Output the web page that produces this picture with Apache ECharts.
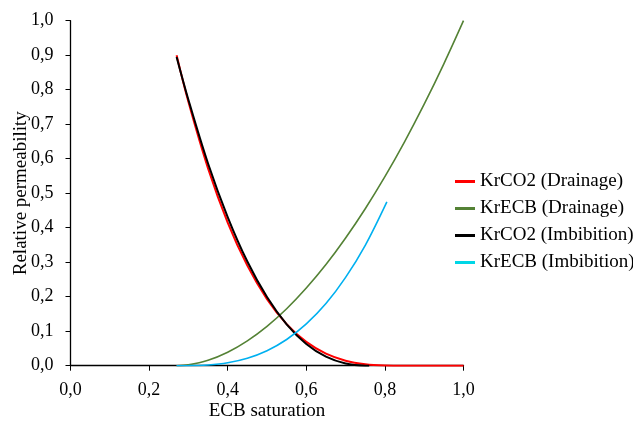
<!DOCTYPE html>
<html>
<head>
<meta charset="utf-8">
<script src="https://cdn.jsdelivr.net/npm/echarts@6/dist/echarts.min.js"></script>
<style>html,body{margin:0;padding:0;background:#fff;}#chart{width:633px;height:421px;}</style>
</head>
<body>
<div id="chart"></div>
<script>
// Data
var satDrainCO2 = [0.27, 0.30, 0.35, 0.40, 0.45, 0.50, 0.55, 0.60, 0.65, 0.70, 0.75, 0.80, 0.85, 0.90, 0.95, 1.00];
var krCO2Drainage = [0.90, 0.765, 0.572, 0.415, 0.290, 0.193, 0.1205, 0.069, 0.035, 0.0146, 0.0042, 0.0006, 0, 0, 0, 0];

var satDrainECB = [0.27, 0.30, 0.35, 0.40, 0.45, 0.50, 0.55, 0.60, 0.65, 0.70, 0.75, 0.80, 0.85, 0.90, 0.95, 1.00];
var krECBDrainage = [0, 0.0025, 0.0157, 0.039, 0.072, 0.114, 0.165, 0.225, 0.293, 0.370, 0.455, 0.548, 0.649, 0.758, 0.875, 1.0];

var satImbCO2 = [0.27, 0.30, 0.35, 0.40, 0.45, 0.50, 0.55, 0.60, 0.65, 0.70, 0.75, 0.76];
var krCO2Imbibition = [0.895, 0.771, 0.586, 0.431, 0.302, 0.199, 0.120, 0.063, 0.026, 0.0062, 0.0001, 0];

var satImbECB = [0.27, 0.30, 0.35, 0.40, 0.45, 0.50, 0.55, 0.60, 0.65, 0.70, 0.75, 0.805];
var krECBImbibition = [0, 0.0001, 0.0022, 0.0087, 0.0218, 0.0436, 0.076, 0.121, 0.180, 0.256, 0.349, 0.475];

var seriesNames = ['KrCO2 (Drainage)', 'KrECB (Drainage)', 'KrCO2 (Imbibition)', 'KrECB (Imbibition)'];
var xTitle = 'ECB saturation';
var yTitle = 'Relative permeability';

function pairs(xs, ys) { return xs.map(function (x, i) { return [x, ys[i]]; }); }
function fmt(v) { return v.toFixed(1).replace('.', ','); }

var font = 'Liberation Serif';
var chart = echarts.init(document.getElementById('chart'), null, { renderer: 'canvas' });

function lineSeries(name, data, color, width) {
  return {
    name: name, type: 'line', data: data, showSymbol: false, symbol: 'none',
    smooth: 0.35, animation: false, clip: true,
    lineStyle: { color: color, width: width }, itemStyle: { color: color }
  };
}

chart.setOption({
  animation: false,
  backgroundColor: '#ffffff',
  grid: { left: 70.5, right: 169.5, top: 20.7, bottom: 55.3, containLabel: false, outerBoundsMode: 'none' },
  xAxis: {
    type: 'value', min: 0, max: 1, interval: 0.2,
    name: xTitle, nameLocation: 'middle', nameGap: 36, nameMoveOverlap: false,
    nameTextStyle: { fontFamily: font, fontSize: 19, color: '#000' },
    axisLine: { lineStyle: { color: '#000', width: 1.3 } },
    axisTick: { show: true, length: 5, inside: false, lineStyle: { color: '#000' } },
    axisLabel: { fontFamily: font, fontSize: 18, color: '#000', margin: 16, formatter: fmt },
    splitLine: { show: false }
  },
  yAxis: {
    type: 'value', min: 0, max: 1, interval: 0.1,
    name: yTitle, nameLocation: 'middle', nameGap: 40, nameRotate: 90, nameMoveOverlap: false,
    nameTextStyle: { fontFamily: font, fontSize: 19, color: '#000' },
    axisLine: { show: true, lineStyle: { color: '#000', width: 1.3 } },
    axisTick: { show: true, length: 5, inside: false, lineStyle: { color: '#000' } },
    axisLabel: { fontFamily: font, fontSize: 18, color: '#000', margin: 17, formatter: fmt },
    splitLine: { show: false }
  },
  legend: {
    orient: 'vertical', left: 450, top: 167,
    icon: 'rect', itemWidth: 20, itemHeight: 3, itemGap: 8, itemStyle: { borderWidth: 0 },
    textStyle: { fontFamily: font, fontSize: 19, color: '#000', lineHeight: 18 },
    data: [
      { name: seriesNames[0], itemStyle: { color: '#ff0000' } },
      { name: seriesNames[1], itemStyle: { color: '#548235' } },
      { name: seriesNames[2], itemStyle: { color: '#000000' } },
      { name: seriesNames[3], itemStyle: { color: '#00d6e6' } }
    ]
  },
  series: [
    lineSeries(seriesNames[0], pairs(satDrainCO2, krCO2Drainage), '#ff0000', 2),
    lineSeries(seriesNames[1], pairs(satDrainECB, krECBDrainage), '#548235', 1.6),
    lineSeries(seriesNames[2], pairs(satImbCO2, krCO2Imbibition), '#000000', 2),
    lineSeries(seriesNames[3], pairs(satImbECB, krECBImbibition), '#00b0f0', 1.6)
  ]
});
</script>
</body>
</html>
